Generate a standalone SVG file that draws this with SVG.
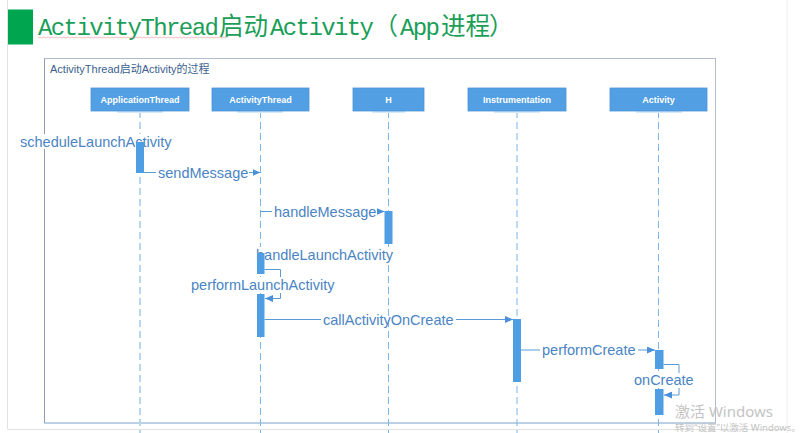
<svg xmlns="http://www.w3.org/2000/svg" width="801" height="433" viewBox="0 0 801 433">
<defs>
<style>
.title{fill:#1a9e58;font-size:26px;}
.mono{font-family:"Liberation Mono","Noto Sans CJK SC",monospace;font-size:24px;letter-spacing:-1.6px;}
.cjk{font-family:"Noto Sans CJK SC",sans-serif;font-size:24.5px;letter-spacing:0;}
.ftitle{font-family:"Liberation Sans","Noto Sans CJK SC",sans-serif;font-size:11px;fill:#3a5f8f;}
.box rect.b{fill:#539fe3;stroke:#4a95da;stroke-width:0.8;}
.box rect.s{fill:#d6eafa;}
.box text{font-family:"Liberation Sans",Arial,sans-serif;font-size:9px;font-weight:bold;fill:#ffffff;text-anchor:middle;}
.life{stroke:#7ab6ea;stroke-width:1;stroke-dasharray:7 4;fill:none;}
.life.light{stroke:#b8d7ef;stroke-width:2;}
.act{fill:#4f9de3;}
.msg{stroke:#5b9bd5;stroke-width:1;fill:none;}
.lbl{font-family:"Liberation Sans",Arial,sans-serif;font-size:14.5px;fill:#4a84c4;}
.bg{fill:#ffffff;}
.wm{font-family:"Noto Sans","Noto Sans CJK SC",sans-serif;fill:#c4c4c4;}
</style>
<marker id="arr" markerWidth="8" markerHeight="7" refX="8" refY="3.5" orient="auto" markerUnits="userSpaceOnUse">
<path d="M0,0 L8,3.5 L0,7 z" fill="#4a90d9"/>
</marker>
</defs>
<rect x="0" y="0" width="801" height="433" fill="#ffffff"/>
<g id="page">
<line x1="7.5" y1="0" x2="7.5" y2="429.5" stroke="#e2e2e2" stroke-width="1"/>
<line x1="7.5" y1="429.5" x2="787" y2="429.5" stroke="#e2e2e2" stroke-width="1"/>
<line x1="787" y1="0" x2="787" y2="433" stroke="#ececec" stroke-width="1"/>
</g>
<g id="title">
<rect x="8" y="9.5" width="25" height="35" fill="#00a550"/>
<text class="title" y="35"><tspan class="mono" x="38">ActivityThread</tspan><tspan class="cjk" x="219">启动</tspan><tspan class="mono" x="270">Activity</tspan><tspan class="cjk" x="373.5">（</tspan><tspan class="mono" x="400">App</tspan><tspan class="cjk" x="441">进程</tspan><tspan class="cjk" x="489">）</tspan></text>
<path d="M38,38 l2,-1 l2,1 l2,-1 l2,1 l2,-1 l2,1 l2,-1 l2,1 l2,-1 l2,1 l2,-1 l2,1 l2,-1 l2,1 l2,-1 l2,1 l2,-1 l2,1 l2,-1 l2,1 l2,-1 l2,1 l2,-1 l2,1 l2,-1 l2,1 l2,-1 l2,1 l2,-1 l2,1 l2,-1 l2,1 l2,-1 l2,1 l2,-1 l2,1 l2,-1 l2,1 l2,-1 l2,1 l2,-1 l2,1 l2,-1 l2,1 l2,-1 l2,1 l2,-1 l2,1 l2,-1 l2,1 l2,-1 l2,1 l2,-1 l2,1 l2,-1 l2,1 l2,-1 l2,1 l2,-1 l2,1 l2,-1 l2,1 l2,-1 l2,1 l2,-1 l2,1 l2,-1 l2,1 l2,-1 l2,1 l2,-1 l2,1 l2,-1 l2,1 l2,-1 l2,1 l2,-1 l2,1 l2,-1 l2,1 l2,-1 l2,1 l2,-1 l2,1 l2,-1 l2,1 l2,-1 l2,1 l2,-1 l2,1 l2,-1 l2,1 l2,-1 l2,1" fill="none" stroke="#e68a8a" stroke-width="0.7" opacity="0.8"/>
</g>
<g id="frame">
<rect x="44.5" y="58.5" width="671" height="364.5" fill="none" stroke="#b2bed0" stroke-width="1"/>
<line x1="44.5" y1="58.5" x2="44.5" y2="423" stroke="#8c9db3" stroke-width="1"/>
<line x1="44.5" y1="423" x2="715.5" y2="423" stroke="#9fc2e2" stroke-width="1"/>
<text class="ftitle" x="50" y="73">ActivityThread启动Activity的过程</text>
</g>
<g id="lifelines">
<line class="life light" x1="140" y1="111" x2="140" y2="433"/>
<line class="life" x1="260.5" y1="111" x2="260.5" y2="433"/>
<line class="life" x1="388.5" y1="111" x2="388.5" y2="433"/>
<line class="life" x1="517" y1="111" x2="517" y2="433"/>
<line class="life" x1="658.5" y1="111" x2="658.5" y2="433"/>
</g>
<g id="node-ApplicationThread" class="box">
<rect class="s" x="117" y="111" width="46" height="2"/>
<rect class="b" x="91" y="88" width="98" height="23"/>
<text x="140" y="103">ApplicationThread</text>
</g>
<g id="node-ActivityThread" class="box">
<rect class="s" x="237" y="111" width="46" height="2"/>
<rect class="b" x="212" y="88" width="97" height="23"/>
<text x="260.5" y="103">ActivityThread</text>
</g>
<g id="node-H" class="box">
<rect class="s" x="372" y="111" width="33" height="2"/>
<rect class="b" x="353" y="88" width="71" height="23"/>
<text x="388.5" y="103">H</text>
</g>
<g id="node-Instrumentation" class="box">
<rect class="s" x="494" y="111" width="46" height="2"/>
<rect class="b" x="468" y="88" width="98" height="23"/>
<text x="517" y="103">Instrumentation</text>
</g>
<g id="node-Activity" class="box">
<rect class="s" x="636" y="111" width="46" height="2"/>
<rect class="b" x="610" y="88" width="97" height="23"/>
<text x="658.5" y="103">Activity</text>
</g>
<g id="connectors">
<line class="msg" x1="144" y1="172.5" x2="156" y2="172.5"/>
<line class="msg" x1="249" y1="172.5" x2="260.5" y2="172.5" marker-end="url(#arr)"/>
<line class="msg" x1="260.5" y1="211.5" x2="272" y2="211.5"/>
<line class="msg" x1="378" y1="211.5" x2="384.5" y2="211.5" marker-end="url(#arr)"/>
<path class="msg" d="M264.5,269.5 H280.5 V298.5 H265" marker-end="url(#arr)"/>
<line class="msg" x1="264.5" y1="319.5" x2="321" y2="319.5"/>
<line class="msg" x1="456" y1="319.5" x2="513" y2="319.5" marker-end="url(#arr)"/>
<line class="msg" x1="521" y1="350" x2="540" y2="350"/>
<line class="msg" x1="638" y1="350" x2="655" y2="350" marker-end="url(#arr)"/>
<path class="msg" d="M663.5,364.5 H679 V395 H664" marker-end="url(#arr)"/>
</g>
<g id="labels">
<rect class="bg" x="19" y="134" width="154" height="15"/>
<text class="lbl" x="20" y="146.5">scheduleLaunchActivity</text>
<text class="lbl" x="158" y="177.5">sendMessage</text>
<text class="lbl" x="274" y="216.5">handleMessage</text>
<rect class="bg" x="255" y="247" width="139" height="15"/>
<text class="lbl" x="256" y="259.5">handleLaunchActivity</text>
<rect class="bg" x="190" y="277" width="147" height="16"/>
<text class="lbl" x="191" y="289.5">performLaunchActivity</text>
<text class="lbl" x="323" y="325">callActivityOnCreate</text>
<text class="lbl" x="542" y="355">performCreate</text>
<rect class="bg" x="633" y="373" width="62" height="15"/>
<text class="lbl" x="634" y="385">onCreate</text>
</g>
<g id="activations">
<rect class="act" x="136" y="142" width="8" height="31"/>
<rect class="act" x="384.5" y="211" width="8" height="33"/>
<rect class="act" x="257" y="253" width="7.5" height="21"/>
<rect class="act" x="257" y="294" width="7.5" height="43"/>
<rect class="act" x="513" y="319" width="8" height="63"/>
<rect class="act" x="655" y="350" width="8.5" height="19"/>
<rect class="act" x="655" y="389" width="8.5" height="26"/>
</g>
<g id="watermark">
<text class="wm" x="675" y="417" font-size="15">激活 Windows</text>
<text class="wm" x="675" y="431" font-size="9.5" fill="#bbbbbb">转到“设置”以激活 Windows。</text>
</g>
</svg>
